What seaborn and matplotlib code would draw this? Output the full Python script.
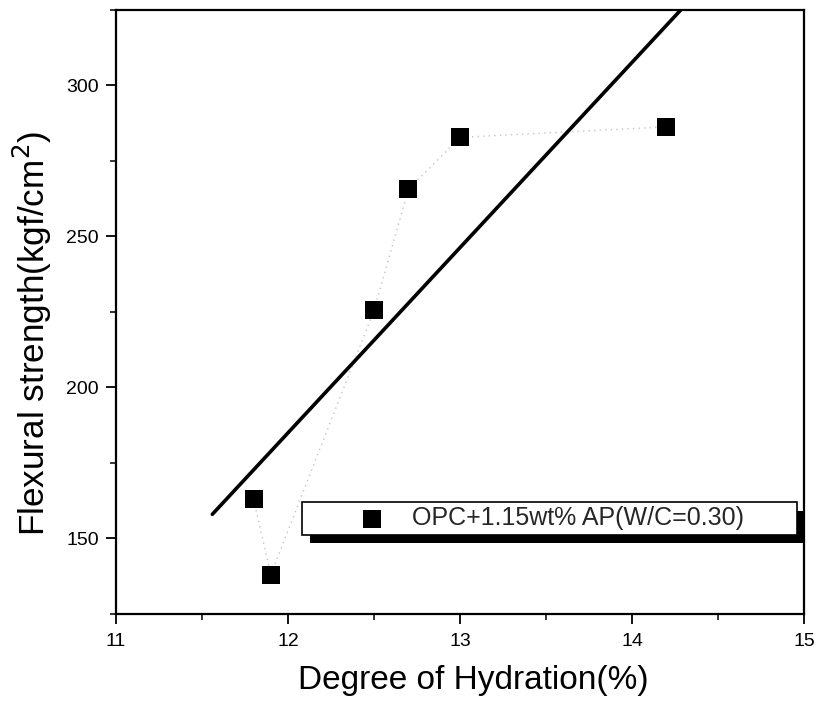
import matplotlib
matplotlib.use("Agg")
import matplotlib.pyplot as plt
import matplotlib.patheffects as pe
from matplotlib.patches import Rectangle
from matplotlib.ticker import MultipleLocator
import numpy as np
import pandas as pd
import seaborn as sns

# degree of hydration (%) vs flexural strength (kgf/cm2)
hydration = [11.8, 11.9, 12.5, 12.7, 13.0, 14.2]
strength = [163.0, 138.0, 225.5, 265.6, 282.8, 286.3]
series_label = "OPC+1.15wt% AP(W/C=0.30)"

x_ticks = [11, 12, 13, 14, 15]
y_ticks = [150, 200, 250, 300]

df = pd.DataFrame({"hydration": hydration, "strength": strength})

# linear fit drawn across the plot
slope, intercept = np.polyfit(df["hydration"], df["strength"], 1)
fit_x = np.array([11.56, 15.0])
fit_y = slope * fit_x + intercept

sns.set_style("ticks")
plt.rcParams["font.family"] = ["Liberation Sans", "DejaVu Sans"]

fig = plt.figure(figsize=(8.17, 7.13), dpi=100)
ax = fig.add_axes([0.142, 0.139, 0.842, 0.847])

# faint dotted guide through the points
sns.lineplot(data=df, x="hydration", y="strength", ax=ax, color="#c4c4c4",
             linewidth=1.0, linestyle=(0, (1, 3)), legend=False)
sns.lineplot(x=fit_x, y=fit_y, ax=ax, color="black", linewidth=2.6, legend=False)
sns.scatterplot(data=df, x="hydration", y="strength", ax=ax, marker="s", s=175,
                color="black", linewidth=0, label=series_label, zorder=3)

ax.set_xlim(11, 15)
ax.set_ylim(125, 325)
ax.set_xticks(x_ticks)
ax.set_yticks(y_ticks)
ax.xaxis.set_minor_locator(MultipleLocator(0.5))
ax.yaxis.set_minor_locator(MultipleLocator(25))
ax.tick_params(which="major", direction="out", length=7, width=1.3, labelsize=14,
               color="black", labelcolor="black")
ax.tick_params(which="minor", direction="out", length=4, width=1.1, color="black")
ax.tick_params(axis="x", which="major", pad=6.5)
ax.tick_params(axis="y", which="major", pad=5.5)
for sp in ax.spines.values():
    sp.set_visible(True)
    sp.set_color("black")
    sp.set_linewidth(1.6)

ax.set_xlabel("Degree of Hydration(%)", fontsize=24, color="black")
ax.set_ylabel("Flexural strength(kgf/cm$^2$)", fontsize=25.3, color="black")
ax.xaxis.set_label_coords(0.520, -0.084)
ax.yaxis.set_label_coords(-0.090, 0.464)

# legend box with a black drop shadow
box = Rectangle((0.270, 0.131), 0.720, 0.054, transform=ax.transAxes,
                facecolor="white", edgecolor="black", linewidth=1.2, zorder=4,
                clip_on=False)
box.set_path_effects([pe.SimplePatchShadow(offset=(6, -6), shadow_rgbFace="black", alpha=1.0),
                      pe.Normal()])
ax.add_patch(box)
leg = ax.legend(loc="center left", bbox_to_anchor=(0.350, 0.158), frameon=False,
                fontsize=18, borderpad=0, borderaxespad=0, handlelength=1.2,
                handletextpad=1.0, markerscale=1.0)
leg.set_zorder(6)

fig.savefig("out.png", dpi=100)
